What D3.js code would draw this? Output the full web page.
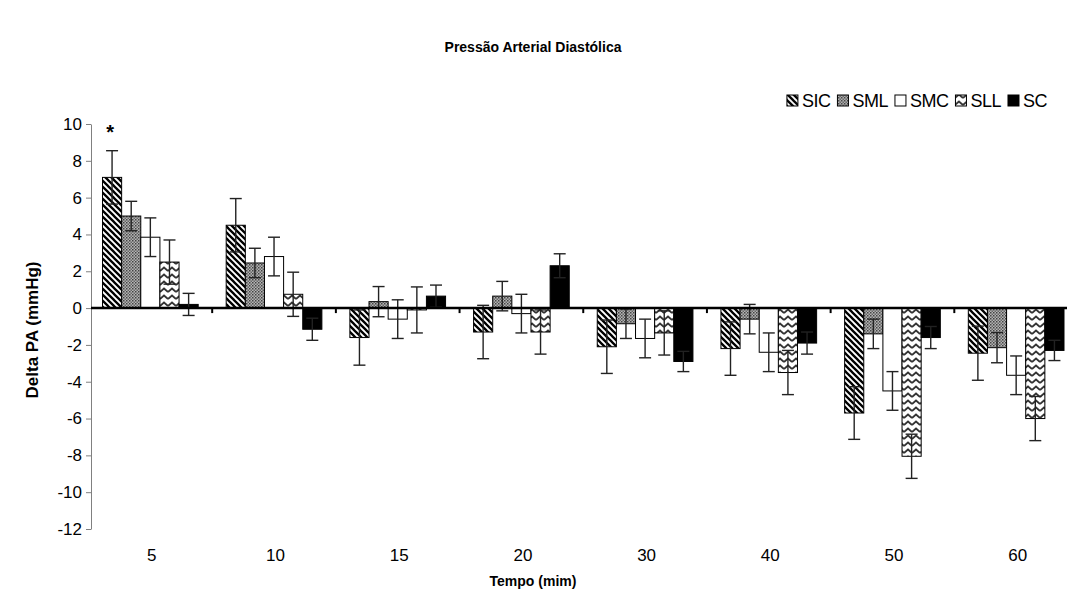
<!DOCTYPE html>
<html>
<head>
<meta charset="utf-8">
<script src="https://cdn.jsdelivr.net/npm/d3@7"></script>
<style>
  body { margin: 0; background: #fff; }
  text { font-family: "Liberation Sans", Arial, sans-serif; }
</style>
</head>
<body>
<div id="chart"></div>
<script>
// categories (time, min) and series
var categories = ["5", "10", "15", "20", "30", "40", "50", "60"];
var seriesNames = ["SIC", "SML", "SMC", "SLL", "SC"];

// mean delta PA per series
var SIC = [7.1, 4.5, -1.6, -1.3, -2.1, -2.2, -5.7, -2.45];
var SML = [5.0, 2.45, 0.35, 0.65, -0.85, -0.6, -1.4, -2.15];
var SMC = [3.85, 2.8, -0.6, -0.3, -1.65, -2.4, -4.5, -3.65];
var SLL = [2.5, 0.75, -0.1, -1.3, -1.35, -3.5, -8.05, -6.0];
var SC  = [0.2, -1.15, 0.65, 2.3, -2.9, -1.9, -1.6, -2.3];

// error (+/-) per series
var SIC_err = [1.45, 1.45, 1.5, 1.45, 1.45, 1.45, 1.43, 1.47];
var SML_err = [0.8, 0.8, 0.82, 0.8, 0.8, 0.8, 0.8, 0.82];
var SMC_err = [1.05, 1.05, 1.05, 1.05, 1.05, 1.05, 1.05, 1.05];
var SLL_err = [1.2, 1.2, 1.25, 1.2, 1.2, 1.2, 1.2, 1.2];
var SC_err  = [0.6, 0.6, 0.6, 0.65, 0.55, 0.6, 0.6, 0.55];

var yTicks = [-12, -10, -8, -6, -4, -2, 0, 2, 4, 6, 8, 10];

var values = {SIC: SIC, SML: SML, SMC: SMC, SLL: SLL, SC: SC};
var errors = {SIC: SIC_err, SML: SML_err, SMC: SMC_err, SLL: SLL_err, SC: SC_err};

var svgWidth = 1067, svgHeight = 594;
var svg = d3.select("#chart").append("svg")
    .attr("width", svgWidth)
    .attr("height", svgHeight);

// fill patterns
var defs = svg.append("defs");
var pSIC = defs.append("pattern").attr("id", "p-SIC")
    .attr("patternUnits", "userSpaceOnUse").attr("width", 6).attr("height", 6);
pSIC.append("rect").attr("width", 6).attr("height", 6).attr("fill", "#fff");
pSIC.append("path").attr("d", "M-1,-1 L7,7 M-4,2 L2,8 M2,-4 L8,2")
    .attr("stroke", "#000").attr("stroke-width", 2.3);

var pSML = defs.append("pattern").attr("id", "p-SML")
    .attr("patternUnits", "userSpaceOnUse").attr("width", 3).attr("height", 3);
pSML.append("rect").attr("width", 3).attr("height", 3).attr("fill", "#b4b4b4");
pSML.append("rect").attr("width", 1.5).attr("height", 1.5).attr("fill", "#444");
pSML.append("rect").attr("x", 1.5).attr("y", 1.5).attr("width", 1.5).attr("height", 1.5).attr("fill", "#666");

var pSLL = defs.append("pattern").attr("id", "p-SLL")
    .attr("patternUnits", "userSpaceOnUse").attr("width", 8).attr("height", 7);
pSLL.append("rect").attr("width", 8).attr("height", 7).attr("fill", "#fff");
pSLL.append("path").attr("d", "M0,5 L4,1.5 L8,5")
    .attr("fill", "none").attr("stroke", "#333").attr("stroke-width", 1.7);

var fills = {SIC: "url(#p-SIC)", SML: "url(#p-SML)", SMC: "#fff", SLL: "url(#p-SLL)", SC: "#000"};

// scales
var x0 = d3.scaleBand().domain(categories).range([88.5, 1078]).padding(0);
var x1 = d3.scaleBand().domain(seriesNames).range([14, x0.bandwidth() - 14]).padding(0);
var y = d3.scaleLinear().domain([-12, 10]).range([529, 124]);

// title
svg.append("text")
    .attr("x", 533).attr("y", 52)
    .attr("text-anchor", "middle")
    .attr("font-size", "14px").attr("font-weight", "bold")
    .text("Pressão Arterial Diastólica");

// y axis (plain hyphen minus like the original)
var yAxis = svg.append("g")
    .attr("transform", "translate(91,0)")
    .call(d3.axisLeft(y).tickValues(yTicks).tickFormat(d => String(d))
        .tickSize(5).tickSizeOuter(0).tickPadding(4));
yAxis.select(".domain").attr("stroke", "#808080");
yAxis.selectAll(".tick line").attr("stroke", "#808080");
yAxis.selectAll(".tick text")
    .attr("font-size", "17px").attr("fill", "#000")
    .style("font-family", "'Liberation Sans', Arial, sans-serif");

// y label
svg.append("text")
    .attr("transform", "translate(38,330) rotate(-90)")
    .attr("text-anchor", "middle")
    .attr("font-size", "17px").attr("font-weight", "bold")
    .text("Delta PA (mmHg)");

// bars
var rows = [];
categories.forEach(function(c, i) {
    seriesNames.forEach(function(s) {
        rows.push({cat: c, series: s, value: values[s][i], err: errors[s][i]});
    });
});

svg.append("g").selectAll("rect")
    .data(rows)
    .enter()
    .append("rect")
    .attr("x", d => x0(d.cat) + x1(d.series))
    .attr("y", d => y(Math.max(0, d.value)))
    .attr("width", x1.bandwidth())
    .attr("height", d => Math.abs(y(d.value) - y(0)))
    .attr("fill", d => fills[d.series])
    .attr("stroke", "#000")
    .attr("stroke-width", 1);

// error bars
var errG = svg.append("g").attr("stroke", "#222").attr("stroke-width", 1.4);
rows.forEach(function(d) {
    var cx = x0(d.cat) + x1(d.series) + x1.bandwidth() / 2;
    var hi = y(d.value + d.err), lo = y(d.value - d.err);
    errG.append("line").attr("x1", cx).attr("x2", cx).attr("y1", hi).attr("y2", lo);
    errG.append("line").attr("x1", cx - 6).attr("x2", cx + 6).attr("y1", hi).attr("y2", hi);
    errG.append("line").attr("x1", cx - 6).attr("x2", cx + 6).attr("y1", lo).attr("y2", lo);
});

// zero line with category ticks
var zeroAxis = svg.append("g")
    .attr("transform", "translate(0," + y(0) + ")");
zeroAxis.append("line")
    .attr("x1", 91).attr("x2", 1078)
    .attr("stroke", "#000").attr("stroke-width", 2.5);
zeroAxis.selectAll(".ztick")
    .data(categories.slice(1))
    .enter().append("line")
    .attr("x1", d => x0(d)).attr("x2", d => x0(d))
    .attr("y1", 0).attr("y2", 5)
    .attr("stroke", "#000").attr("stroke-width", 2);

// category labels
svg.append("g").selectAll("text")
    .data(categories)
    .enter().append("text")
    .attr("x", d => x0(d) + x0.bandwidth() / 2 + 1.5)
    .attr("y", 561)
    .attr("text-anchor", "middle")
    .attr("font-size", "17px")
    .text(d => d);

// x label
svg.append("text")
    .attr("x", 533).attr("y", 586)
    .attr("text-anchor", "middle")
    .attr("font-size", "14px").attr("font-weight", "bold")
    .text("Tempo (mim)");

// significance mark
svg.append("text")
    .attr("x", x0("5") + x1("SIC") + x1.bandwidth() / 2 - 2)
    .attr("y", y(SIC[0] + SIC_err[0]) - 12)
    .attr("text-anchor", "middle")
    .attr("font-size", "20px").attr("font-weight", "bold")
    .text("*");

// legend, right edge near x=1047
var legend = svg.append("g");
var lx = 0;
seriesNames.forEach(function(s) {
    legend.append("rect")
        .attr("x", lx).attr("y", -5)
        .attr("width", 11).attr("height", 11)
        .attr("fill", fills[s]).attr("stroke", "#000").attr("stroke-width", 1);
    var t = legend.append("text")
        .attr("x", lx + 15).attr("y", 7)
        .attr("font-size", "18px")
        .attr("letter-spacing", "-0.5px")
        .text(s);
    lx += 15 + t.node().getComputedTextLength() + 7;
});
legend.attr("transform", "translate(" + (1054 - lx) + ",100)");
</script>
</body>
</html>
